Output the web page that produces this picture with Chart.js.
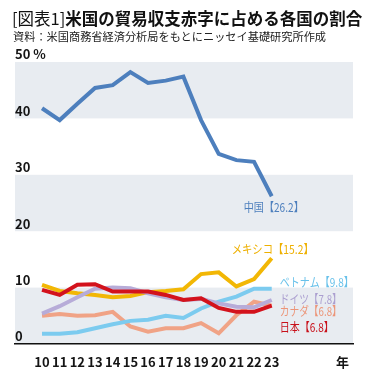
<!DOCTYPE html>
<html lang="ja">
<head>
<meta charset="utf-8">
<title>米国の貿易収支赤字に占める各国の割合</title>
<script src="https://cdn.jsdelivr.net/npm/chart.js@4/dist/chart.umd.min.js"></script>
<style>
  body { margin: 0; background: #fff; font-family: 'Noto Sans CJK JP', 'Noto Sans', sans-serif; }
  #wrap { position: relative; width: 365px; height: 380px; }
  #title { position: absolute; left: 12px; top: 8px; font-size: 16.5px; font-weight: 700; color: #111; white-space: nowrap; line-height: 20px; }
  #title .tag { font-weight: 400; }
  #source { position: absolute; left: 13px; top: 28px; font-size: 11.2px; color: #222; white-space: nowrap; line-height: 16px; }
  #chartBox { position: absolute; left: 0; top: 0; width: 365px; height: 380px; }
</style>
</head>
<body>
<div id="wrap">
  <div id="chartBox"><canvas id="tradeChart"></canvas></div>
  <div id="title"><span class="tag">[図表1]</span>米国の貿易収支赤字に占める各国の割合</div>
  <div id="source">資料：米国商務省経済分析局をもとにニッセイ基礎研究所作成</div>
</div>
<script>
// Data (share of US trade deficit, %)
const years = ['10', '11', '12', '13', '14', '15', '16', '17', '18', '19', '20', '21', '22', '23'];
const china   = [41.8, 39.7, 42.6, 45.4, 45.9, 48.2, 46.3, 46.7, 47.4, 39.7, 33.7, 32.6, 32.3, 26.2];
const mexico  = [10.5, 9.4, 9.0, 8.7, 8.3, 8.5, 9.2, 9.4, 9.7, 12.4, 12.7, 10.2, 11.5, 15.2];
const vietnam = [1.8, 1.8, 2.1, 2.8, 3.5, 4.1, 4.3, 5.0, 4.6, 6.3, 7.5, 8.4, 9.8, 9.8];
const germany = [5.4, 6.7, 8.3, 9.8, 10.0, 9.9, 9.0, 8.3, 7.8, 8.0, 7.2, 6.6, 6.5, 7.8];
const canada  = [5.0, 5.3, 5.0, 5.1, 5.7, 3.1, 2.2, 2.8, 2.8, 3.7, 1.9, 5.1, 7.5, 6.8];
const japan   = [9.6, 8.7, 10.5, 10.6, 9.3, 9.3, 9.3, 8.7, 7.8, 8.1, 6.4, 5.7, 5.7, 6.8];
const yTicks  = [0, 10, 20, 30, 40, 50];

// Series styling and end-label layout (drawn top first)
const seriesList = [
    { name: '日本',     values: japan,   color: '#d3121c', labelColor: '#c8101a', dx: 8,  dy: 22,  align: 'left',   maxW: 54 },
    { name: 'ドイツ',   values: germany, color: '#b7acd8', labelColor: '#ab9fd0', dx: 8,  dy: -1,  align: 'left',   maxW: 62 },
    { name: 'メキシコ', values: mexico,  color: '#f2b705', labelColor: '#eeb000', dx: 1,  dy: -9,  align: 'center', maxW: 82 },
    { name: 'ベトナム', values: vietnam, color: '#7ccbef', labelColor: '#68c1ea', dx: 8,  dy: -6,  align: 'left',   maxW: 74 },
    { name: 'カナダ',   values: canada,  color: '#f0a386', labelColor: '#ec9578', dx: 8,  dy: 6,   align: 'left',   maxW: 62 },
    { name: '中国',     values: china,   color: '#4d7fbd', labelColor: '#4d7fbd', dx: 2,  dy: 11,  align: 'center', maxW: 60 }
];

const BAND_COLOR = '#e8ecf1';
const FONT = "'Noto Sans CJK JP', 'Noto Sans', sans-serif";

// Grey bands behind the plot: 0-10, 20-30, 40-50
const bandPlugin = {
    id: 'bands',
    beforeDraw(chart) {
        const { ctx, chartArea, scales } = chart;
        const y = scales.y;
        ctx.save();
        ctx.fillStyle = BAND_COLOR;
        for (let i = 0; i < yTicks.length - 1; i += 2) {
            const top = y.getPixelForValue(yTicks[i + 1]);
            const bottom = y.getPixelForValue(yTicks[i]);
            ctx.fillRect(chartArea.left, top, chartArea.right - chartArea.left, bottom - top);
        }
        ctx.restore();
    }
};

// Y tick labels sit just above their grid line
const yLabelPlugin = {
    id: 'yLabels',
    afterDraw(chart) {
        const { ctx, scales } = chart;
        ctx.save();
        ctx.font = `bold 13px ${FONT}`;
        ctx.fillStyle = '#151515';
        ctx.textAlign = 'left';
        ctx.textBaseline = 'bottom';
        yTicks.forEach(v => {
            const py = scales.y.getPixelForValue(v);
            const text = v === 50 ? '50 %' : String(v);
            ctx.fillText(text, 15, py - 1);
        });
        ctx.restore();
    }
};

// Name [value] labels at the end of each line
const endLabelPlugin = {
    id: 'endLabels',
    afterDatasetsDraw(chart) {
        const { ctx } = chart;
        ctx.save();
        ctx.font = `12px ${FONT}`;
        ctx.textBaseline = 'middle';
        seriesList.forEach((s, i) => {
            const meta = chart.getDatasetMeta(i);
            const last = meta.data[meta.data.length - 1];
            const value = s.values[s.values.length - 1];
            const text = `${s.name}【${value.toFixed(1)}】`;
            ctx.fillStyle = s.labelColor;
            ctx.textAlign = s.align;
            ctx.fillText(text, last.x + s.dx, last.y + s.dy, s.maxW);
        });
        ctx.restore();
    }
};

const ctx = document.getElementById('tradeChart').getContext('2d');

new Chart(ctx, {
    type: 'line',
    data: {
        datasets: seriesList.map(s => ({
            label: s.name,
            data: s.values.map((v, i) => ({ x: Number(years[i]), y: v })),
            borderColor: s.color,
            backgroundColor: s.color,
            borderWidth: 4,
            pointRadius: 0,
            tension: 0,
            borderJoinStyle: 'miter',
            fill: false
        }))
    },
    options: {
        responsive: true,
        maintainAspectRatio: false,
        animation: false,
        layout: {
            padding: { top: 62, left: 15, right: 12, bottom: 0 }
        },
        plugins: {
            legend: { display: false },
            tooltip: { enabled: false }
        },
        scales: {
            x: {
                type: 'linear',
                min: 8.47,
                max: 27.6,
                afterFit(scale) {
                    scale.height = 36;
                },
                afterBuildTicks(scale) {
                    scale.ticks = years.map(y => ({ value: Number(y) })).concat([{ value: 27 }]);
                },
                grid: { display: false },
                border: { display: true, color: '#111', width: 1.5 },
                ticks: {
                    autoSkip: false,
                    maxRotation: 0,
                    padding: 2,
                    color: '#151515',
                    font: { family: FONT, size: 13, weight: 'bold' },
                    callback: (v) => v === 27 ? '年' : String(v)
                }
            },
            y: {
                display: false,
                min: 0,
                max: 50
            }
        }
    },
    plugins: [bandPlugin, yLabelPlugin, endLabelPlugin]
});
</script>
</body>
</html>
